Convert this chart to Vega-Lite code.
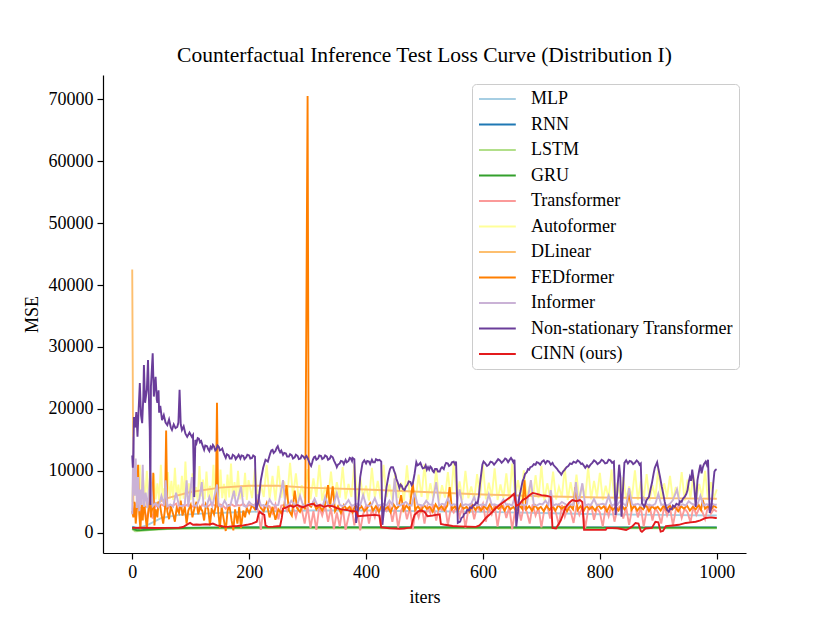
{
  "$schema": "https://vega.github.io/schema/vega-lite/v6.json",
  "width": 643,
  "height": 478,
  "autosize": "none",
  "padding": {"left": 103, "top": 75, "right": 84, "bottom": 70},
  "background": "white",
  "title": {
    "text": "Counterfactual Inference Test Loss Curve (Distribution I)",
    "font": "Liberation Serif",
    "fontSize": 21.5,
    "fontWeight": "normal",
    "color": "black",
    "anchor": "middle",
    "offset": 9
  },
  "config": {
    "view": {"stroke": null},
    "font": "Liberation Serif",
    "line": {"strokeWidth": 1.9},
    "axis": {
      "grid": false,
      "domainColor": "black",
      "domainWidth": 1.2,
      "tickColor": "black",
      "tickWidth": 1.2,
      "tickSize": 6,
      "labelColor": "black",
      "labelFont": "Liberation Serif",
      "labelFontSize": 18,
      "labelPadding": 4,
      "titleColor": "black",
      "titleFont": "Liberation Serif",
      "titleFontSize": 18,
      "titleFontWeight": "normal",
      "titlePadding": 7
    },
    "legend": {
      "orient": "none",
      "legendX": 369,
      "legendY": 9,
      "title": null,
      "symbolType": "M-1,0H3.6",
      "symbolSize": 256,
      "symbolStrokeWidth": 2,
      "labelOffset": 35,
      "rowPadding": 7.5,
      "padding": 6,
      "fillColor": "rgba(255,255,255,0.8)",
      "strokeColor": "#cccccc",
      "cornerRadius": 4,
      "labelFont": "Liberation Serif",
      "labelFontSize": 18,
      "labelColor": "black",
      "labelLimit": 400
    }
  },
  "encoding": {
    "x": {
      "field": "iter",
      "type": "quantitative",
      "scale": {"domain": [-50, 1050], "nice": false, "zero": false},
      "axis": {"values": [0, 200, 400, 600, 800, 1000], "format": "d", "title": "iters"}
    },
    "y": {
      "field": "mse",
      "type": "quantitative",
      "scale": {"domain": [-3250, 73900], "nice": false, "zero": false},
      "axis": {"values": [0, 10000, 20000, 30000, 40000, 50000, 60000, 70000], "format": "d", "title": "MSE"}
    }
  },
  "layer": [
    {
      "data": {"values": [
        {"iter":0,"mse":1000},{"iter":10,"mse":800},{"iter":25,"mse":1200},{"iter":50,"mse":2400},{"iter":80,"mse":2900},{"iter":120,"mse":3100},{"iter":200,"mse":3400},{"iter":300,"mse":3600},{"iter":400,"mse":3600},{"iter":500,"mse":3500},{"iter":600,"mse":3400},{"iter":700,"mse":3200},{"iter":800,"mse":3000},{"iter":900,"mse":2900},{"iter":1000,"mse":2800}
      ]},
      "mark": {"type": "line"},
      "encoding": {
        "color": {
          "datum": "MLP",
          "type": "nominal",
          "scale": {
            "domain": ["MLP", "RNN", "LSTM", "GRU", "Transformer", "Autoformer", "DLinear", "FEDformer", "Informer", "Non-stationary Transformer", "CINN (ours)"],
            "range": ["#a6cee3", "#1f78b4", "#b2df8a", "#33a02c", "#fb9a99", "#ffff99", "#fdbf6f", "#ff7f00", "#cab2d6", "#6a3d9a", "#e31a1c"]
          }
        }
      }
    },
    {
      "data": {"values": [
        {"iter":0,"mse":900},{"iter":10,"mse":700},{"iter":50,"mse":800},{"iter":200,"mse":880},{"iter":1000,"mse":860}
      ]},
      "mark": {"type": "line"},
      "encoding": {"color": {"datum": "RNN", "type": "nominal"}}
    },
    {
      "data": {"values": [
        {"iter":0,"mse":600},{"iter":5,"mse":250},{"iter":12,"mse":300},{"iter":30,"mse":450},{"iter":60,"mse":600},{"iter":120,"mse":700},{"iter":300,"mse":750},{"iter":1000,"mse":750}
      ]},
      "mark": {"type": "line"},
      "encoding": {"color": {"datum": "LSTM", "type": "nominal"}}
    },
    {
      "data": {"values": [
        {"iter":0,"mse":700},{"iter":3,"mse":550},{"iter":8,"mse":420},{"iter":15,"mse":450},{"iter":30,"mse":550},{"iter":60,"mse":700},{"iter":100,"mse":800},{"iter":150,"mse":850},{"iter":250,"mse":880},{"iter":400,"mse":880},{"iter":600,"mse":860},{"iter":800,"mse":850},{"iter":1000,"mse":840}
      ]},
      "mark": {"type": "line"},
      "encoding": {"color": {"datum": "GRU", "type": "nominal"}}
    },
    {
      "data": {"values": [
        {"iter":0,"mse":4000},{"iter":5,"mse":3500},{"iter":10,"mse":4500},{"iter":15,"mse":3000},{"iter":20,"mse":4400},{"iter":25,"mse":2100},{"iter":30,"mse":4200},{"iter":35,"mse":2300},{"iter":40,"mse":4500},{"iter":45,"mse":4100},{"iter":50,"mse":4600},{"iter":55,"mse":4300},{"iter":60,"mse":3800},{"iter":65,"mse":4500},{"iter":70,"mse":4400},{"iter":75,"mse":4700},{"iter":80,"mse":3500},{"iter":85,"mse":4500},{"iter":90,"mse":4300},{"iter":95,"mse":4600},{"iter":100,"mse":4400},{"iter":105,"mse":4200},{"iter":110,"mse":4500},{"iter":115,"mse":3600},{"iter":120,"mse":4600},{"iter":125,"mse":4400},{"iter":130,"mse":4300},{"iter":135,"mse":4700},{"iter":140,"mse":4500},{"iter":145,"mse":4200},{"iter":150,"mse":4600},{"iter":155,"mse":4400},{"iter":160,"mse":3900},{"iter":165,"mse":4500},{"iter":170,"mse":4600},{"iter":175,"mse":4300},{"iter":180,"mse":4500},{"iter":185,"mse":4400},{"iter":190,"mse":4700},{"iter":195,"mse":4200},{"iter":200,"mse":4500},{"iter":205,"mse":4400},{"iter":210,"mse":4600},{"iter":215,"mse":3800},{"iter":220,"mse":500},{"iter":225,"mse":4200},{"iter":230,"mse":4500},{"iter":235,"mse":4300},{"iter":240,"mse":3200},{"iter":245,"mse":4600},{"iter":250,"mse":2200},{"iter":255,"mse":4400},{"iter":260,"mse":4500},{"iter":265,"mse":3500},{"iter":270,"mse":4600},{"iter":275,"mse":4200},{"iter":280,"mse":2500},{"iter":285,"mse":4400},{"iter":290,"mse":3800},{"iter":295,"mse":1500},{"iter":300,"mse":4300},{"iter":305,"mse":800},{"iter":310,"mse":3500},{"iter":315,"mse":500},{"iter":320,"mse":4200},{"iter":325,"mse":2800},{"iter":330,"mse":4500},{"iter":335,"mse":1800},{"iter":340,"mse":4000},{"iter":345,"mse":600},{"iter":350,"mse":3300},{"iter":355,"mse":1000},{"iter":360,"mse":4200},{"iter":365,"mse":500},{"iter":370,"mse":2600},{"iter":375,"mse":4300},{"iter":380,"mse":1200},{"iter":385,"mse":3800},{"iter":390,"mse":400},{"iter":395,"mse":3000},{"iter":400,"mse":4400},{"iter":405,"mse":1500},{"iter":410,"mse":3800},{"iter":415,"mse":2500},{"iter":420,"mse":4500},{"iter":425,"mse":1200},{"iter":430,"mse":4000},{"iter":435,"mse":3500},{"iter":440,"mse":4500},{"iter":445,"mse":1800},{"iter":450,"mse":4200},{"iter":455,"mse":800},{"iter":460,"mse":3600},{"iter":465,"mse":4500},{"iter":470,"mse":2200},{"iter":475,"mse":4100},{"iter":480,"mse":600},{"iter":485,"mse":3900},{"iter":490,"mse":2500},{"iter":495,"mse":4400},{"iter":500,"mse":1500},{"iter":505,"mse":4300},{"iter":510,"mse":3200},{"iter":515,"mse":4600},{"iter":520,"mse":2000},{"iter":525,"mse":4100},{"iter":530,"mse":3700},{"iter":535,"mse":4500},{"iter":540,"mse":1200},{"iter":545,"mse":4000},{"iter":550,"mse":3300},{"iter":555,"mse":4400},{"iter":560,"mse":2600},{"iter":565,"mse":4200},{"iter":570,"mse":800},{"iter":575,"mse":3800},{"iter":580,"mse":4600},{"iter":585,"mse":2200},{"iter":590,"mse":4300},{"iter":595,"mse":3500},{"iter":600,"mse":4700},{"iter":605,"mse":1800},{"iter":610,"mse":4100},{"iter":615,"mse":3000},{"iter":620,"mse":4500},{"iter":625,"mse":1000},{"iter":630,"mse":3900},{"iter":635,"mse":4400},{"iter":640,"mse":2400},{"iter":645,"mse":4200},{"iter":650,"mse":600},{"iter":655,"mse":3600},{"iter":660,"mse":4500},{"iter":665,"mse":2000},{"iter":670,"mse":4300},{"iter":675,"mse":3400},{"iter":680,"mse":1500},{"iter":685,"mse":4600},{"iter":690,"mse":2800},{"iter":695,"mse":4100},{"iter":700,"mse":900},{"iter":705,"mse":3800},{"iter":710,"mse":4400},{"iter":715,"mse":2300},{"iter":720,"mse":4200},{"iter":725,"mse":3200},{"iter":730,"mse":1200},{"iter":735,"mse":4500},{"iter":740,"mse":2600},{"iter":745,"mse":4000},{"iter":750,"mse":3500},{"iter":755,"mse":1600},{"iter":760,"mse":4400},{"iter":765,"mse":2900},{"iter":770,"mse":4100},{"iter":775,"mse":800},{"iter":780,"mse":3700},{"iter":785,"mse":4500},{"iter":790,"mse":2100},{"iter":795,"mse":4000},{"iter":800,"mse":3300},{"iter":805,"mse":1000},{"iter":810,"mse":4300},{"iter":815,"mse":2700},{"iter":820,"mse":4600},{"iter":825,"mse":1800},{"iter":830,"mse":3900},{"iter":835,"mse":4400},{"iter":840,"mse":2300},{"iter":845,"mse":4100},{"iter":850,"mse":1300},{"iter":855,"mse":3800},{"iter":860,"mse":4500},{"iter":865,"mse":2500},{"iter":870,"mse":4200},{"iter":875,"mse":1000},{"iter":880,"mse":3600},{"iter":885,"mse":4400},{"iter":890,"mse":2000},{"iter":895,"mse":4000},{"iter":900,"mse":3200},{"iter":905,"mse":1500},{"iter":910,"mse":4300},{"iter":915,"mse":2800},{"iter":920,"mse":4100},{"iter":925,"mse":1200},{"iter":930,"mse":3700},{"iter":935,"mse":4400},{"iter":940,"mse":2400},{"iter":945,"mse":3900},{"iter":950,"mse":3300},{"iter":955,"mse":1700},{"iter":960,"mse":4200},{"iter":965,"mse":2900},{"iter":970,"mse":4000},{"iter":975,"mse":3500},{"iter":980,"mse":2200},{"iter":985,"mse":4300},{"iter":990,"mse":3100},{"iter":995,"mse":3800},{"iter":1000,"mse":3400}
      ]},
      "mark": {"type": "line"},
      "encoding": {"color": {"datum": "Transformer", "type": "nominal"}}
    },
    {
      "data": {"values": [
        {"iter":0,"mse":5000},{"iter":3,"mse":12500},{"iter":5,"mse":6000},{"iter":8,"mse":9000},{"iter":10,"mse":5000},{"iter":13,"mse":11000},{"iter":16,"mse":5500},{"iter":19,"mse":8500},{"iter":22,"mse":5200},{"iter":25,"mse":10000},{"iter":28,"mse":5800},{"iter":31,"mse":7500},{"iter":34,"mse":5000},{"iter":37,"mse":9500},{"iter":40,"mse":5400},{"iter":43,"mse":8000},{"iter":46,"mse":5200},{"iter":49,"mse":11000},{"iter":52,"mse":5600},{"iter":55,"mse":7200},{"iter":58,"mse":5100},{"iter":61,"mse":9800},{"iter":64,"mse":5500},{"iter":67,"mse":8400},{"iter":70,"mse":5300},{"iter":73,"mse":10500},{"iter":76,"mse":5700},{"iter":79,"mse":7800},{"iter":82,"mse":5200},{"iter":85,"mse":9200},{"iter":88,"mse":5500},{"iter":91,"mse":11500},{"iter":94,"mse":5800},{"iter":97,"mse":8000},{"iter":100,"mse":5300},{"iter":103,"mse":9600},{"iter":106,"mse":5600},{"iter":109,"mse":7400},{"iter":112,"mse":5200},{"iter":115,"mse":10800},{"iter":118,"mse":5900},{"iter":121,"mse":8600},{"iter":124,"mse":5400},{"iter":127,"mse":9900},{"iter":130,"mse":5700},{"iter":133,"mse":7600},{"iter":136,"mse":5300},{"iter":139,"mse":11000},{"iter":142,"mse":5800},{"iter":145,"mse":8800},{"iter":148,"mse":5400},{"iter":151,"mse":10200},{"iter":154,"mse":5600},{"iter":157,"mse":7900},{"iter":160,"mse":5200},{"iter":163,"mse":9400},{"iter":166,"mse":5700},{"iter":169,"mse":11200},{"iter":172,"mse":5500},{"iter":175,"mse":8200},{"iter":178,"mse":5900},{"iter":181,"mse":10000},{"iter":184,"mse":5400},{"iter":187,"mse":7700},{"iter":190,"mse":5800},{"iter":193,"mse":9700},{"iter":196,"mse":5300},{"iter":199,"mse":8500},
        {"iter":205,"mse":5600},{"iter":210,"mse":10400},{"iter":215,"mse":5300},{"iter":220,"mse":7800},{"iter":225,"mse":5800},{"iter":230,"mse":11000},{"iter":235,"mse":5500},{"iter":240,"mse":9200},{"iter":245,"mse":5200},{"iter":250,"mse":10800},{"iter":255,"mse":5700},{"iter":260,"mse":8300},{"iter":265,"mse":5400},{"iter":270,"mse":11300},{"iter":275,"mse":5900},{"iter":280,"mse":9600},{"iter":285,"mse":5300},{"iter":290,"mse":7700},{"iter":295,"mse":5600},{"iter":300,"mse":10300},{"iter":305,"mse":5400},{"iter":310,"mse":8800},{"iter":315,"mse":5800},{"iter":320,"mse":11000},{"iter":325,"mse":5200},{"iter":330,"mse":7500},{"iter":335,"mse":5600},{"iter":340,"mse":9900},{"iter":345,"mse":5300},{"iter":350,"mse":8200},{"iter":355,"mse":5700},{"iter":360,"mse":10600},{"iter":365,"mse":5400},{"iter":370,"mse":7900},{"iter":375,"mse":5800},{"iter":380,"mse":11200},{"iter":385,"mse":5300},{"iter":390,"mse":9000},{"iter":395,"mse":5600},{"iter":400,"mse":7600},{"iter":405,"mse":5200},{"iter":410,"mse":10500},{"iter":415,"mse":5700},{"iter":420,"mse":8400},{"iter":425,"mse":5400},{"iter":430,"mse":11000},{"iter":435,"mse":5800},{"iter":440,"mse":7800},{"iter":445,"mse":5300},{"iter":450,"mse":9700},{"iter":455,"mse":5600},{"iter":460,"mse":8100},{"iter":465,"mse":5200},{"iter":470,"mse":10900},{"iter":475,"mse":5700},{"iter":480,"mse":7400},{"iter":485,"mse":5400},{"iter":490,"mse":9400},{"iter":495,"mse":5800},{"iter":500,"mse":11100},{"iter":505,"mse":5300},{"iter":510,"mse":8000},{"iter":515,"mse":5600},{"iter":520,"mse":10200},{"iter":525,"mse":5200},{"iter":530,"mse":7700},{"iter":535,"mse":5700},{"iter":540,"mse":9800},{"iter":545,"mse":5400},{"iter":550,"mse":11300},{"iter":555,"mse":5800},{"iter":560,"mse":8300},{"iter":565,"mse":5300},{"iter":570,"mse":10000},{"iter":575,"mse":5600},{"iter":580,"mse":7500},{"iter":585,"mse":5200},{"iter":590,"mse":9500},{"iter":595,"mse":5700},{"iter":600,"mse":11000},{"iter":605,"mse":5400},{"iter":610,"mse":8100},{"iter":615,"mse":5800},{"iter":620,"mse":10400},{"iter":625,"mse":5300},{"iter":630,"mse":7800},{"iter":635,"mse":5600},{"iter":640,"mse":9600},{"iter":645,"mse":5200},{"iter":650,"mse":11200},{"iter":655,"mse":5700},{"iter":660,"mse":8500},{"iter":665,"mse":5400},{"iter":670,"mse":10100},{"iter":675,"mse":5800},{"iter":680,"mse":7600},{"iter":685,"mse":5300},{"iter":690,"mse":9300},{"iter":695,"mse":5600},{"iter":700,"mse":10800},{"iter":705,"mse":5200},{"iter":710,"mse":8000},{"iter":715,"mse":5700},{"iter":720,"mse":9900},{"iter":725,"mse":5400},{"iter":730,"mse":7400},{"iter":735,"mse":5800},{"iter":740,"mse":10500},{"iter":745,"mse":5300},{"iter":750,"mse":8200},{"iter":755,"mse":5600},{"iter":760,"mse":9400},{"iter":765,"mse":5200},{"iter":770,"mse":7800},{"iter":775,"mse":5700},{"iter":780,"mse":10600},{"iter":785,"mse":5400},{"iter":790,"mse":8400},{"iter":795,"mse":5800},{"iter":800,"mse":9700},{"iter":805,"mse":5300},{"iter":810,"mse":7600},{"iter":815,"mse":5600},{"iter":820,"mse":10200},{"iter":825,"mse":5200},{"iter":830,"mse":8100},{"iter":835,"mse":5700},{"iter":840,"mse":9000},{"iter":845,"mse":5400},{"iter":850,"mse":7500},{"iter":855,"mse":5800},{"iter":860,"mse":10100},{"iter":865,"mse":5300},{"iter":870,"mse":8300},{"iter":875,"mse":5600},{"iter":880,"mse":9500},{"iter":885,"mse":5200},{"iter":890,"mse":7700},{"iter":895,"mse":5700},{"iter":900,"mse":10400},{"iter":905,"mse":5400},{"iter":910,"mse":8000},{"iter":915,"mse":5800},{"iter":920,"mse":9200},{"iter":925,"mse":5300},{"iter":930,"mse":7400},{"iter":935,"mse":5600},{"iter":940,"mse":9800},{"iter":945,"mse":5200},{"iter":950,"mse":8600},{"iter":955,"mse":5700},{"iter":960,"mse":9300},{"iter":965,"mse":5400},{"iter":970,"mse":7900},{"iter":975,"mse":5800},{"iter":980,"mse":10000},{"iter":985,"mse":5300},{"iter":990,"mse":8200},{"iter":995,"mse":5600},{"iter":1000,"mse":7000}
      ]},
      "mark": {"type": "line"},
      "encoding": {"color": {"datum": "Autoformer", "type": "nominal"}}
    },
    {
      "data": {"values": [
        {"iter":0,"mse":42500},{"iter":2,"mse":5000},{"iter":10,"mse":4000},{"iter":30,"mse":4300},{"iter":60,"mse":5600},{"iter":100,"mse":6600},{"iter":150,"mse":7300},{"iter":200,"mse":7600},{"iter":250,"mse":7600},{"iter":300,"mse":7300},{"iter":400,"mse":7000},{"iter":500,"mse":6600},{"iter":600,"mse":6200},{"iter":700,"mse":5900},{"iter":800,"mse":5700},{"iter":900,"mse":5600},{"iter":1000,"mse":5500}
      ]},
      "mark": {"type": "line"},
      "encoding": {"color": {"datum": "DLinear", "type": "nominal"}}
    },
    {
      "data": {"values": [
        {"iter":0,"mse":3500},{"iter":2,"mse":2500},{"iter":4,"mse":5000},{"iter":6,"mse":1500},{"iter":8,"mse":4000},{"iter":10,"mse":11000},{"iter":12,"mse":3000},{"iter":14,"mse":600},{"iter":16,"mse":4500},{"iter":18,"mse":2000},{"iter":20,"mse":5500},{"iter":22,"mse":3200},{"iter":25,"mse":800},{"iter":28,"mse":4000},{"iter":30,"mse":7000},{"iter":32,"mse":2500},{"iter":35,"mse":4500},{"iter":36,"mse":9700},{"iter":38,"mse":1200},{"iter":40,"mse":3800},{"iter":43,"mse":2500},{"iter":45,"mse":5000},{"iter":48,"mse":4200},{"iter":50,"mse":3000},{"iter":53,"mse":1500},{"iter":56,"mse":3800},{"iter":58,"mse":16500},{"iter":60,"mse":3500},{"iter":63,"mse":2200},{"iter":66,"mse":4300},{"iter":70,"mse":3000},{"iter":73,"mse":1800},{"iter":76,"mse":4000},{"iter":80,"mse":3200},{"iter":83,"mse":5200},{"iter":86,"mse":2800},{"iter":90,"mse":4200},{"iter":93,"mse":1500},{"iter":96,"mse":3600},{"iter":100,"mse":4500},{"iter":103,"mse":2500},{"iter":106,"mse":3800},{"iter":110,"mse":5000},{"iter":113,"mse":3000},{"iter":116,"mse":4200},{"iter":120,"mse":3500},{"iter":123,"mse":2000},{"iter":126,"mse":4600},{"iter":130,"mse":3800},{"iter":133,"mse":1200},{"iter":136,"mse":4000},{"iter":140,"mse":3000},{"iter":143,"mse":4500},{"iter":145,"mse":21000},{"iter":147,"mse":3500},{"iter":150,"mse":800},{"iter":153,"mse":4200},{"iter":156,"mse":2500},{"iter":160,"mse":300},{"iter":163,"mse":3500},{"iter":166,"mse":4600},{"iter":170,"mse":2000},{"iter":173,"mse":400},{"iter":176,"mse":3800},{"iter":180,"mse":1500},{"iter":183,"mse":4200},{"iter":186,"mse":800},{"iter":190,"mse":3600},{"iter":193,"mse":2500},{"iter":196,"mse":4000},{"iter":200,"mse":3200},{"iter":205,"mse":4500},{"iter":210,"mse":3800},{"iter":215,"mse":5200},{"iter":220,"mse":4000},{"iter":225,"mse":3500},{"iter":230,"mse":4800},{"iter":235,"mse":2500},{"iter":240,"mse":4200},{"iter":245,"mse":2100},{"iter":250,"mse":3800},{"iter":255,"mse":3200},{"iter":260,"mse":4300},{"iter":264,"mse":7700},{"iter":268,"mse":3600},{"iter":273,"mse":2800},{"iter":278,"mse":6800},{"iter":282,"mse":4000},{"iter":287,"mse":3400},{"iter":292,"mse":4500},{"iter":296,"mse":3800},{"iter":300,"mse":70500},{"iter":302,"mse":4500},{"iter":306,"mse":4200},{"iter":310,"mse":5000},{"iter":315,"mse":3800},{"iter":320,"mse":4400},{"iter":325,"mse":3600},{"iter":330,"mse":4600},{"iter":335,"mse":7700},{"iter":338,"mse":4000},{"iter":343,"mse":7500},{"iter":347,"mse":3500},{"iter":352,"mse":4300},{"iter":357,"mse":3200},{"iter":362,"mse":4500},{"iter":367,"mse":3800},{"iter":372,"mse":4200},{"iter":377,"mse":3300},{"iter":382,"mse":4600},{"iter":387,"mse":3700},{"iter":392,"mse":4300},{"iter":397,"mse":3500},{"iter":402,"mse":4000},{"iter":407,"mse":4800},{"iter":412,"mse":3600},{"iter":417,"mse":4300},{"iter":422,"mse":3400},{"iter":427,"mse":4500},{"iter":432,"mse":3800},{"iter":437,"mse":4200},{"iter":442,"mse":3300},{"iter":447,"mse":4600},{"iter":452,"mse":3900},{"iter":456,"mse":4300},{"iter":460,"mse":6100},{"iter":464,"mse":3600},{"iter":469,"mse":4400},{"iter":474,"mse":3800},{"iter":480,"mse":8000},{"iter":484,"mse":3700},{"iter":489,"mse":4300},{"iter":494,"mse":3500},{"iter":499,"mse":4500},{"iter":504,"mse":3900},{"iter":509,"mse":4200},{"iter":514,"mse":3400},{"iter":519,"mse":4600},{"iter":524,"mse":3800},{"iter":529,"mse":4300},{"iter":534,"mse":3600},{"iter":539,"mse":4400},{"iter":543,"mse":7400},{"iter":547,"mse":3800},{"iter":552,"mse":4300},{"iter":557,"mse":3500},{"iter":562,"mse":4600},{"iter":567,"mse":3900},{"iter":572,"mse":4200},{"iter":577,"mse":3400},{"iter":582,"mse":4500},{"iter":587,"mse":3700},{"iter":592,"mse":4400},{"iter":597,"mse":3600},{"iter":602,"mse":4300},{"iter":607,"mse":3800},{"iter":612,"mse":4600},{"iter":617,"mse":3500},{"iter":622,"mse":4200},{"iter":627,"mse":3900},{"iter":632,"mse":4400},{"iter":637,"mse":3600},{"iter":642,"mse":4500},{"iter":647,"mse":3800},{"iter":652,"mse":4200},{"iter":657,"mse":3500},{"iter":662,"mse":4400},{"iter":667,"mse":3900},{"iter":671,"mse":8500},{"iter":674,"mse":3800},{"iter":679,"mse":4300},{"iter":684,"mse":3600},{"iter":689,"mse":4500},{"iter":694,"mse":3800},{"iter":699,"mse":4200},{"iter":704,"mse":3500},{"iter":709,"mse":4400},{"iter":714,"mse":3700},{"iter":719,"mse":4300},{"iter":724,"mse":3600},{"iter":729,"mse":4500},{"iter":734,"mse":3900},{"iter":739,"mse":4200},{"iter":744,"mse":3500},{"iter":749,"mse":4400},{"iter":754,"mse":3800},{"iter":758,"mse":7400},{"iter":762,"mse":3700},{"iter":767,"mse":4300},{"iter":772,"mse":3500},{"iter":777,"mse":4400},{"iter":782,"mse":3800},{"iter":787,"mse":4200},{"iter":792,"mse":3600},{"iter":797,"mse":4500},{"iter":802,"mse":3900},{"iter":807,"mse":4300},{"iter":812,"mse":3500},{"iter":817,"mse":4400},{"iter":822,"mse":3700},{"iter":827,"mse":4200},{"iter":832,"mse":3600},{"iter":837,"mse":4500},{"iter":842,"mse":3800},{"iter":846,"mse":4300},{"iter":850,"mse":6600},{"iter":854,"mse":3700},{"iter":859,"mse":4400},{"iter":864,"mse":3600},{"iter":869,"mse":4200},{"iter":874,"mse":3800},{"iter":879,"mse":4500},{"iter":884,"mse":3500},{"iter":889,"mse":4300},{"iter":894,"mse":3900},{"iter":899,"mse":4200},{"iter":904,"mse":3600},{"iter":909,"mse":4400},{"iter":914,"mse":3700},{"iter":919,"mse":4500},{"iter":924,"mse":3800},{"iter":929,"mse":4200},{"iter":934,"mse":3500},{"iter":939,"mse":4300},{"iter":944,"mse":3900},{"iter":949,"mse":4400},{"iter":954,"mse":3600},{"iter":959,"mse":4200},{"iter":964,"mse":3800},{"iter":969,"mse":4500},{"iter":973,"mse":3700},{"iter":976,"mse":5300},{"iter":980,"mse":3900},{"iter":985,"mse":4300},{"iter":990,"mse":3700},{"iter":995,"mse":4400},{"iter":1000,"mse":4000}
      ]},
      "mark": {"type": "line"},
      "encoding": {"color": {"datum": "FEDformer", "type": "nominal"}}
    },
    {
      "data": {"values": [
        {"iter":0,"mse":3000},{"iter":2,"mse":15500},{"iter":4,"mse":6000},{"iter":6,"mse":12000},{"iter":8,"mse":4000},{"iter":10,"mse":9000},{"iter":12,"mse":3500},{"iter":14,"mse":7000},{"iter":16,"mse":4500},{"iter":18,"mse":11000},{"iter":20,"mse":4200},{"iter":23,"mse":6500},{"iter":26,"mse":4000},{"iter":31,"mse":9700},{"iter":35,"mse":4300},{"iter":40,"mse":4800},{"iter":45,"mse":4200},{"iter":50,"mse":6000},{"iter":55,"mse":4400},{"iter":57,"mse":8500},{"iter":60,"mse":4300},{"iter":65,"mse":4600},{"iter":70,"mse":4200},{"iter":75,"mse":6500},{"iter":80,"mse":4400},{"iter":85,"mse":4300},{"iter":90,"mse":4600},{"iter":93,"mse":8500},{"iter":96,"mse":4200},{"iter":102,"mse":9000},{"iter":105,"mse":4500},{"iter":110,"mse":4300},{"iter":115,"mse":5500},{"iter":119,"mse":8200},{"iter":122,"mse":4400},{"iter":127,"mse":4200},{"iter":132,"mse":5800},{"iter":137,"mse":4300},{"iter":145,"mse":7800},{"iter":148,"mse":4400},{"iter":153,"mse":4200},{"iter":158,"mse":5200},{"iter":163,"mse":4300},{"iter":168,"mse":4500},{"iter":174,"mse":6800},{"iter":178,"mse":4300},{"iter":186,"mse":7500},{"iter":190,"mse":4400},{"iter":195,"mse":4200},{"iter":200,"mse":5000},{"iter":205,"mse":4500},{"iter":210,"mse":4300},{"iter":215,"mse":6200},{"iter":220,"mse":4400},{"iter":225,"mse":4500},{"iter":230,"mse":4200},{"iter":235,"mse":5400},{"iter":240,"mse":4600},{"iter":245,"mse":4400},{"iter":250,"mse":4500},{"iter":258,"mse":8500},{"iter":262,"mse":4500},{"iter":267,"mse":4300},{"iter":272,"mse":5200},{"iter":277,"mse":4600},{"iter":282,"mse":4400},{"iter":287,"mse":6000},{"iter":292,"mse":4500},{"iter":297,"mse":4300},{"iter":302,"mse":4700},{"iter":307,"mse":4500},{"iter":312,"mse":5500},{"iter":317,"mse":4400},{"iter":322,"mse":4600},{"iter":326,"mse":4300},{"iter":330,"mse":5800},{"iter":335,"mse":4500},{"iter":340,"mse":4400},{"iter":345,"mse":4700},{"iter":350,"mse":6400},{"iter":355,"mse":4500},{"iter":360,"mse":4300},{"iter":365,"mse":4600},{"iter":370,"mse":5300},{"iter":375,"mse":4400},{"iter":380,"mse":4500},{"iter":385,"mse":4700},{"iter":390,"mse":4400},{"iter":395,"mse":6100},{"iter":400,"mse":4500},{"iter":405,"mse":4300},{"iter":410,"mse":4600},{"iter":415,"mse":5600},{"iter":420,"mse":4400},{"iter":425,"mse":4500},{"iter":430,"mse":4700},{"iter":435,"mse":4400},{"iter":440,"mse":5200},{"iter":445,"mse":4500},{"iter":449,"mse":8800},{"iter":453,"mse":4600},{"iter":458,"mse":4400},{"iter":463,"mse":4700},{"iter":468,"mse":5000},{"iter":473,"mse":4500},{"iter":478,"mse":4400},{"iter":483,"mse":6500},{"iter":488,"mse":4600},{"iter":493,"mse":4500},{"iter":498,"mse":4400},{"iter":503,"mse":5200},{"iter":508,"mse":4600},{"iter":513,"mse":4500},{"iter":520,"mse":8200},{"iter":525,"mse":4400},{"iter":530,"mse":4700},{"iter":535,"mse":4500},{"iter":540,"mse":5600},{"iter":545,"mse":4400},{"iter":550,"mse":4600},{"iter":555,"mse":4500},{"iter":560,"mse":7000},{"iter":565,"mse":4400},{"iter":570,"mse":4600},{"iter":575,"mse":4500},{"iter":580,"mse":4700},{"iter":585,"mse":5800},{"iter":590,"mse":4400},{"iter":595,"mse":4500},{"iter":600,"mse":4600},{"iter":605,"mse":4400},{"iter":610,"mse":6200},{"iter":615,"mse":4500},{"iter":620,"mse":4600},{"iter":625,"mse":4400},{"iter":630,"mse":4700},{"iter":635,"mse":5400},{"iter":640,"mse":4500},{"iter":645,"mse":4600},{"iter":650,"mse":4400},{"iter":655,"mse":6000},{"iter":660,"mse":4500},{"iter":665,"mse":4700},{"iter":670,"mse":4400},{"iter":675,"mse":4600},{"iter":682,"mse":8500},{"iter":687,"mse":4500},{"iter":692,"mse":4400},{"iter":697,"mse":4700},{"iter":702,"mse":4600},{"iter":707,"mse":5200},{"iter":712,"mse":4500},{"iter":716,"mse":6900},{"iter":720,"mse":4400},{"iter":725,"mse":4600},{"iter":730,"mse":4500},{"iter":735,"mse":5000},{"iter":740,"mse":4700},{"iter":745,"mse":4400},{"iter":750,"mse":4600},{"iter":755,"mse":4500},{"iter":759,"mse":8200},{"iter":763,"mse":4600},{"iter":770,"mse":8000},{"iter":775,"mse":4400},{"iter":780,"mse":4600},{"iter":785,"mse":4500},{"iter":790,"mse":5500},{"iter":795,"mse":4400},{"iter":800,"mse":4600},{"iter":805,"mse":4700},{"iter":810,"mse":4500},{"iter":815,"mse":6000},{"iter":820,"mse":4400},{"iter":825,"mse":4600},{"iter":830,"mse":4500},{"iter":835,"mse":5200},{"iter":840,"mse":4700},{"iter":845,"mse":4400},{"iter":850,"mse":7200},{"iter":855,"mse":4600},{"iter":860,"mse":4500},{"iter":865,"mse":4700},{"iter":870,"mse":4400},{"iter":875,"mse":5600},{"iter":880,"mse":4600},{"iter":885,"mse":4500},{"iter":890,"mse":4400},{"iter":895,"mse":4700},{"iter":900,"mse":6300},{"iter":905,"mse":4500},{"iter":910,"mse":4600},{"iter":915,"mse":4400},{"iter":920,"mse":4700},{"iter":925,"mse":5300},{"iter":932,"mse":7000},{"iter":937,"mse":4500},{"iter":942,"mse":4600},{"iter":947,"mse":4400},{"iter":952,"mse":5100},{"iter":957,"mse":4700},{"iter":962,"mse":4500},{"iter":967,"mse":4600},{"iter":972,"mse":6000},{"iter":977,"mse":4400},{"iter":982,"mse":4600},{"iter":987,"mse":4500},{"iter":992,"mse":4700},{"iter":997,"mse":4500},{"iter":1000,"mse":4600}
      ]},
      "mark": {"type": "line"},
      "encoding": {"color": {"datum": "Informer", "type": "nominal"}}
    },
    {
      "data": {"values": [
        {"iter":0,"mse":12500},{"iter":1,"mse":10500},{"iter":2,"mse":13000},{"iter":3,"mse":18700},{"iter":5,"mse":17000},{"iter":7,"mse":19500},{"iter":9,"mse":15500},{"iter":11,"mse":20000},{"iter":13,"mse":24200},{"iter":15,"mse":19000},{"iter":17,"mse":17700},{"iter":19,"mse":22000},{"iter":20,"mse":27100},{"iter":22,"mse":21000},{"iter":25,"mse":23100},{"iter":27,"mse":27900},{"iter":29,"mse":20000},{"iter":30,"mse":16600},{"iter":31,"mse":4500},{"iter":32,"mse":23600},{"iter":35,"mse":29000},{"iter":37,"mse":22000},{"iter":38,"mse":23100},{"iter":40,"mse":25200},{"iter":42,"mse":21500},{"iter":43,"mse":21000},{"iter":45,"mse":23000},{"iter":46,"mse":19400},{"iter":48,"mse":20500},{"iter":51,"mse":18200},{"iter":54,"mse":19000},{"iter":57,"mse":17800},{"iter":60,"mse":17400},{"iter":63,"mse":18300},{"iter":66,"mse":17000},{"iter":68,"mse":16600},{"iter":71,"mse":17500},{"iter":74,"mse":16900},{"iter":77,"mse":17100},{"iter":79,"mse":17800},{"iter":81,"mse":23100},{"iter":83,"mse":17500},{"iter":85,"mse":16600},{"iter":88,"mse":17200},{"iter":91,"mse":16000},{"iter":94,"mse":15500},{"iter":98,"mse":16200},{"iter":102,"mse":15500},{"iter":104,"mse":15800},{"iter":106,"mse":5800},{"iter":108,"mse":15000},
        {"iter":110,"mse":14500},{"iter":112,"mse":15300},{"iter":114,"mse":15200},{"iter":116,"mse":14600},{"iter":118,"mse":14800},{"iter":120,"mse":14200},{"iter":123,"mse":13400},{"iter":125,"mse":14100},{"iter":128,"mse":14000},{"iter":130,"mse":13500},{"iter":132,"mse":13200},{"iter":134,"mse":13900},{"iter":136,"mse":13600},{"iter":138,"mse":14200},{"iter":140,"mse":13900},{"iter":142,"mse":13300},{"iter":144,"mse":13500},{"iter":146,"mse":14100},{"iter":148,"mse":13900},{"iter":150,"mse":13300},{"iter":152,"mse":13400},{"iter":154,"mse":13600},{"iter":156,"mse":13000},{"iter":158,"mse":12500},{"iter":160,"mse":12100},{"iter":162,"mse":12700},{"iter":165,"mse":12500},{"iter":167,"mse":12000},{"iter":170,"mse":12000},{"iter":172,"mse":12600},{"iter":175,"mse":12400},{"iter":177,"mse":11900},{"iter":180,"mse":12300},{"iter":182,"mse":12600},{"iter":185,"mse":12000},{"iter":187,"mse":12500},{"iter":190,"mse":12400},{"iter":192,"mse":11900},{"iter":195,"mse":12200},{"iter":197,"mse":12600},{"iter":200,"mse":12500},{"iter":202,"mse":12000},{"iter":205,"mse":12100},{"iter":207,"mse":12500},{"iter":210,"mse":12300},
        {"iter":212,"mse":3700},{"iter":216,"mse":5000},{"iter":220,"mse":8500},{"iter":224,"mse":10500},{"iter":228,"mse":11800},{"iter":232,"mse":11500},
        {"iter":236,"mse":12800},{"iter":238,"mse":13300},{"iter":240,"mse":13400},{"iter":242,"mse":12900},{"iter":245,"mse":13200},{"iter":247,"mse":13700},{"iter":249,"mse":14000},{"iter":251,"mse":13400},{"iter":253,"mse":13000},{"iter":255,"mse":13300},{"iter":258,"mse":12600},{"iter":260,"mse":12900},{"iter":263,"mse":12800},{"iter":265,"mse":12300},{"iter":268,"mse":12300},{"iter":270,"mse":12700},{"iter":273,"mse":12500},{"iter":275,"mse":12000},{"iter":278,"mse":12200},{"iter":280,"mse":12600},{"iter":283,"mse":12400},{"iter":285,"mse":11900},{"iter":288,"mse":12000},{"iter":290,"mse":12500},{"iter":293,"mse":12300},{"iter":295,"mse":12000},{"iter":298,"mse":12400},{"iter":300,"mse":12100},{"iter":302,"mse":11600},{"iter":304,"mse":11100},{"iter":306,"mse":10800},{"iter":308,"mse":11400},{"iter":309,"mse":11800},{"iter":311,"mse":12200},{"iter":313,"mse":12300},{"iter":315,"mse":11800},{"iter":318,"mse":12000},{"iter":320,"mse":12500},{"iter":323,"mse":12400},{"iter":325,"mse":11900},{"iter":328,"mse":12100},{"iter":330,"mse":12500},{"iter":333,"mse":12300},{"iter":335,"mse":11800},{"iter":338,"mse":12000},{"iter":340,"mse":12400},{"iter":343,"mse":12200},{"iter":345,"mse":11700},{"iter":347,"mse":11300},{"iter":349,"mse":10900},{"iter":350,"mse":10600},{"iter":352,"mse":11000},{"iter":355,"mse":11200},{"iter":357,"mse":11600},{"iter":360,"mse":11500},{"iter":362,"mse":11100},{"iter":365,"mse":11800},{"iter":367,"mse":11400},{"iter":370,"mse":11600},{"iter":372,"mse":12100},{"iter":374,"mse":12000},{"iter":376,"mse":11600},{"iter":377,"mse":12100},{"iter":380,"mse":11900},
        {"iter":383,"mse":1600},{"iter":386,"mse":3500},{"iter":390,"mse":9000},
        {"iter":394,"mse":11300},{"iter":397,"mse":11700},{"iter":400,"mse":11200},{"iter":402,"mse":11600},{"iter":405,"mse":11500},{"iter":407,"mse":11100},{"iter":410,"mse":11800},{"iter":412,"mse":11400},{"iter":415,"mse":11400},{"iter":417,"mse":11900},{"iter":420,"mse":11700},{"iter":423,"mse":11800},{"iter":426,"mse":11500},
        {"iter":428,"mse":1300},{"iter":431,"mse":4000},{"iter":435,"mse":7400},{"iter":439,"mse":9500},{"iter":441,"mse":10300},{"iter":443,"mse":10600},{"iter":446,"mse":10600},{"iter":448,"mse":10000},{"iter":450,"mse":9500},{"iter":452,"mse":8700},{"iter":454,"mse":8200},{"iter":456,"mse":7600},{"iter":457,"mse":7250},{"iter":459,"mse":7800},{"iter":461,"mse":7600},{"iter":463,"mse":7100},{"iter":466,"mse":6900},{"iter":468,"mse":7400},{"iter":471,"mse":7800},{"iter":473,"mse":8300},{"iter":476,"mse":8200},{"iter":478,"mse":7700},{"iter":480,"mse":8000},{"iter":483,"mse":9500},
        {"iter":486,"mse":11400},{"iter":488,"mse":10900},{"iter":490,"mse":11000},{"iter":493,"mse":11300},{"iter":495,"mse":10800},{"iter":497,"mse":10400},{"iter":500,"mse":10500},{"iter":502,"mse":10900},{"iter":504,"mse":10200},{"iter":506,"mse":10600},{"iter":508,"mse":10200},{"iter":510,"mse":10700},{"iter":512,"mse":10500},{"iter":514,"mse":10000},{"iter":516,"mse":9800},{"iter":518,"mse":10300},{"iter":521,"mse":10300},{"iter":523,"mse":9900},{"iter":526,"mse":9900},{"iter":528,"mse":10400},{"iter":530,"mse":10600},{"iter":533,"mse":10300},{"iter":535,"mse":10900},{"iter":537,"mse":11300},{"iter":540,"mse":11200},{"iter":542,"mse":10800},{"iter":545,"mse":11000},{"iter":547,"mse":11400},{"iter":550,"mse":11500},{"iter":552,"mse":11100},{"iter":554,"mse":11500},
        {"iter":557,"mse":1600},{"iter":561,"mse":1800},{"iter":563,"mse":2400},{"iter":566,"mse":2600},{"iter":568,"mse":3100},{"iter":571,"mse":3200},{"iter":573,"mse":3700},{"iter":576,"mse":3600},{"iter":578,"mse":4100},{"iter":581,"mse":4000},{"iter":583,"mse":4400},{"iter":586,"mse":4500},{"iter":588,"mse":4900},{"iter":591,"mse":4800},{"iter":593,"mse":6000},{"iter":595,"mse":8000},
        {"iter":599,"mse":11000},{"iter":601,"mse":11500},{"iter":604,"mse":11200},{"iter":607,"mse":10800},{"iter":610,"mse":11000},{"iter":613,"mse":11500},{"iter":616,"mse":11400},{"iter":619,"mse":11000},{"iter":623,"mse":11500},{"iter":626,"mse":11900},{"iter":629,"mse":11700},{"iter":632,"mse":11300},{"iter":635,"mse":11600},{"iter":638,"mse":12000},{"iter":640,"mse":11900},{"iter":643,"mse":11400},{"iter":645,"mse":11700},{"iter":648,"mse":12100},{"iter":650,"mse":11800},{"iter":652,"mse":11400},{"iter":654,"mse":11800},
        {"iter":657,"mse":1000},{"iter":660,"mse":3500},{"iter":662,"mse":5800},{"iter":664,"mse":6600},{"iter":666,"mse":7500},{"iter":668,"mse":8400},{"iter":670,"mse":8800},{"iter":672,"mse":9500},{"iter":675,"mse":9800},{"iter":677,"mse":10300},{"iter":679,"mse":10200},{"iter":681,"mse":10600},
        {"iter":684,"mse":10700},{"iter":687,"mse":11100},{"iter":690,"mse":11000},{"iter":692,"mse":11400},{"iter":695,"mse":11300},{"iter":698,"mse":11000},{"iter":701,"mse":11500},{"iter":704,"mse":11700},{"iter":707,"mse":11200},{"iter":710,"mse":11600},{"iter":713,"mse":11500},{"iter":716,"mse":11000},{"iter":719,"mse":11300},{"iter":721,"mse":10900},{"iter":724,"mse":10600},{"iter":727,"mse":10300},{"iter":729,"mse":10000},{"iter":732,"mse":9700},{"iter":734,"mse":9400},{"iter":737,"mse":9900},{"iter":740,"mse":10200},{"iter":743,"mse":10600},{"iter":746,"mse":10800},{"iter":749,"mse":11200},{"iter":752,"mse":11100},{"iter":755,"mse":11500},{"iter":759,"mse":11300},{"iter":762,"mse":11700},{"iter":765,"mse":11500},{"iter":768,"mse":11100},{"iter":770,"mse":11200},{"iter":773,"mse":10800},{"iter":775,"mse":10500},{"iter":778,"mse":10900},{"iter":781,"mse":10600},{"iter":784,"mse":11000},{"iter":787,"mse":11300},{"iter":790,"mse":11700},{"iter":793,"mse":11500},{"iter":796,"mse":11100},{"iter":800,"mse":11400},{"iter":803,"mse":11800},{"iter":806,"mse":11600},{"iter":809,"mse":11200},{"iter":812,"mse":11300},{"iter":815,"mse":11800},{"iter":818,"mse":11700},{"iter":821,"mse":11300},{"iter":824,"mse":11500},
        {"iter":827,"mse":2900},{"iter":830,"mse":7000},{"iter":833,"mse":11000},{"iter":835,"mse":9000},{"iter":837,"mse":2600},{"iter":839,"mse":6000},
        {"iter":842,"mse":11300},{"iter":845,"mse":11700},{"iter":848,"mse":11200},{"iter":851,"mse":11600},{"iter":854,"mse":11500},{"iter":857,"mse":11100},{"iter":860,"mse":11300},{"iter":863,"mse":11700},{"iter":866,"mse":11400},{"iter":868,"mse":11000},{"iter":870,"mse":11200},
        {"iter":872,"mse":4800},{"iter":876,"mse":4200},{"iter":880,"mse":5300},{"iter":884,"mse":5800},{"iter":887,"mse":7200},{"iter":889,"mse":8000},{"iter":892,"mse":9600},{"iter":894,"mse":10500},{"iter":898,"mse":11400},{"iter":900,"mse":10400},{"iter":903,"mse":9000},{"iter":906,"mse":7400},{"iter":908,"mse":6500},{"iter":911,"mse":5000},{"iter":913,"mse":4200},{"iter":915,"mse":3700},{"iter":918,"mse":3400},{"iter":920,"mse":3900},{"iter":923,"mse":3800},{"iter":925,"mse":4400},{"iter":928,"mse":4200},{"iter":931,"mse":4700},{"iter":935,"mse":4500},{"iter":937,"mse":5100},{"iter":940,"mse":5000},{"iter":942,"mse":5500},{"iter":945,"mse":5800},{"iter":948,"mse":6300},{"iter":950,"mse":6900},{"iter":952,"mse":8200},{"iter":954,"mse":9000},{"iter":956,"mse":8400},{"iter":958,"mse":10200},{"iter":961,"mse":8000},{"iter":964,"mse":4200},{"iter":967,"mse":8500},{"iter":970,"mse":10100},{"iter":972,"mse":11000},{"iter":974,"mse":9600},{"iter":976,"mse":10500},{"iter":978,"mse":11100},{"iter":981,"mse":11500},{"iter":983,"mse":11000},{"iter":985,"mse":11800},{"iter":988,"mse":3200},{"iter":991,"mse":4200},{"iter":994,"mse":8000},{"iter":996,"mse":9900},{"iter":998,"mse":10200},{"iter":1000,"mse":10200}
      ]},
      "mark": {"type": "line"},
      "encoding": {"color": {"datum": "Non-stationary Transformer", "type": "nominal"}}
    },
    {
      "data": {"values": [
        {"iter":0,"mse":800},{"iter":20,"mse":820},{"iter":40,"mse":780},{"iter":60,"mse":800},{"iter":80,"mse":820},{"iter":87,"mse":950},{"iter":95,"mse":1400},{"iter":99,"mse":1600},{"iter":104,"mse":1300},{"iter":110,"mse":1350},{"iter":116,"mse":1300},{"iter":125,"mse":1400},{"iter":132,"mse":1350},{"iter":138,"mse":1500},{"iter":145,"mse":1200},{"iter":152,"mse":1100},{"iter":159,"mse":970},{"iter":165,"mse":1000},{"iter":170,"mse":1050},{"iter":180,"mse":1100},{"iter":190,"mse":1200},{"iter":196,"mse":1300},{"iter":205,"mse":1500},{"iter":213,"mse":1800},{"iter":216,"mse":3000},{"iter":218,"mse":3400},{"iter":222,"mse":3100},{"iter":226,"mse":2900},{"iter":228,"mse":1200},{"iter":232,"mse":970},{"iter":241,"mse":1000},{"iter":253,"mse":1100},{"iter":256,"mse":2500},{"iter":258,"mse":3900},{"iter":264,"mse":4100},{"iter":270,"mse":4400},{"iter":276,"mse":4200},{"iter":282,"mse":4500},{"iter":287,"mse":4300},{"iter":292,"mse":4100},{"iter":298,"mse":4400},{"iter":304,"mse":4600},{"iter":309,"mse":4700},{"iter":315,"mse":4300},{"iter":321,"mse":4500},{"iter":328,"mse":4200},{"iter":335,"mse":4400},{"iter":343,"mse":4300},{"iter":350,"mse":4000},{"iter":358,"mse":3800},{"iter":367,"mse":3700},{"iter":375,"mse":3500},{"iter":380,"mse":3500},{"iter":384,"mse":3400},{"iter":386,"mse":2700},{"iter":400,"mse":2800},{"iter":415,"mse":2900},{"iter":423,"mse":2800},{"iter":426,"mse":900},{"iter":440,"mse":750},{"iter":450,"mse":700},{"iter":457,"mse":650},{"iter":465,"mse":700},{"iter":472,"mse":800},{"iter":477,"mse":850},{"iter":480,"mse":2000},{"iter":483,"mse":2900},{"iter":490,"mse":3500},{"iter":495,"mse":3600},{"iter":500,"mse":3400},{"iter":505,"mse":2700},{"iter":514,"mse":2800},{"iter":520,"mse":2900},{"iter":526,"mse":3000},{"iter":528,"mse":1450},{"iter":535,"mse":1300},{"iter":548,"mse":1100},{"iter":560,"mse":1050},{"iter":575,"mse":1000},{"iter":588,"mse":970},{"iter":594,"mse":1200},{"iter":600,"mse":1800},{"iter":605,"mse":2400},{"iter":612,"mse":3000},{"iter":622,"mse":4000},{"iter":630,"mse":4600},{"iter":640,"mse":5300},{"iter":647,"mse":5800},{"iter":653,"mse":6300},{"iter":657,"mse":4400},{"iter":662,"mse":4600},{"iter":668,"mse":5300},{"iter":674,"mse":5600},{"iter":680,"mse":6100},{"iter":685,"mse":6450},{"iter":692,"mse":6300},{"iter":700,"mse":6100},{"iter":708,"mse":6000},{"iter":716,"mse":5800},{"iter":719,"mse":800},{"iter":725,"mse":700},{"iter":733,"mse":2000},{"iter":742,"mse":4200},{"iter":748,"mse":4900},{"iter":753,"mse":5300},{"iter":760,"mse":5100},{"iter":766,"mse":5300},{"iter":770,"mse":5000},{"iter":773,"mse":500},{"iter":790,"mse":480},{"iter":810,"mse":480},{"iter":812,"mse":800},{"iter":830,"mse":750},{"iter":845,"mse":480},{"iter":850,"mse":700},{"iter":855,"mse":1000},{"iter":861,"mse":1600},{"iter":866,"mse":1500},{"iter":870,"mse":300},{"iter":872,"mse":160},{"iter":878,"mse":700},{"iter":889,"mse":800},{"iter":895,"mse":1800},{"iter":900,"mse":1700},{"iter":904,"mse":200},{"iter":908,"mse":300},{"iter":913,"mse":1100},{"iter":925,"mse":1200},{"iter":935,"mse":1300},{"iter":947,"mse":1600},{"iter":955,"mse":1700},{"iter":964,"mse":1800},{"iter":972,"mse":2000},{"iter":981,"mse":2400},{"iter":990,"mse":2500},{"iter":998,"mse":2400},{"iter":1000,"mse":2400}
      ]},
      "mark": {"type": "line"},
      "encoding": {"color": {"datum": "CINN (ours)", "type": "nominal"}}
    }
  ]
}
